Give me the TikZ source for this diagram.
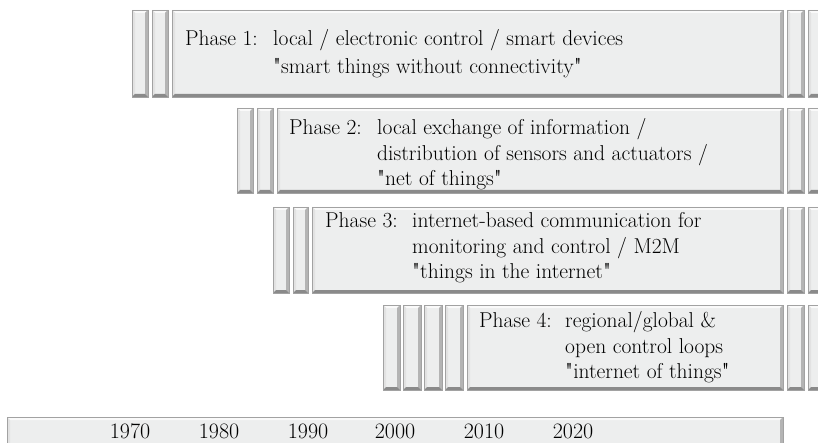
\documentclass[tikz,border=0pt]{standalone}
\usetikzlibrary{fit}
\definecolor{face}{HTML}{EDEEEE}
\definecolor{outl}{HTML}{A2A2A2}
\definecolor{bvtop}{HTML}{FAFAFA}
\definecolor{bvleft}{HTML}{E2E2E2}
\definecolor{bvright}{HTML}{B4B4B4}
\definecolor{bvbot}{HTML}{8A8A8A}
\font\qf="[lmroman10-regular]" at 21.5pt
\newcommand{\dq}{{\qf"}}
\newlength{\bw}\setlength{\bw}{3pt}
\newcommand{\bevbox}[5]{%
  \node[bevnode, fit={(#2,#3) (#4,#5)}] (#1) {};
  \fill[bvtop] (#1.north west) -- (#1.north east) -- ([xshift=-\bw,yshift=-\bw]#1.north east) -- ([xshift=\bw,yshift=-\bw]#1.north west) -- cycle;
  \fill[bvleft] (#1.north west) -- ([xshift=\bw,yshift=-\bw]#1.north west) -- ([xshift=\bw,yshift=\bw]#1.south west) -- (#1.south west) -- cycle;
  \fill[bvright] (#1.north east) -- ([xshift=-\bw,yshift=-\bw]#1.north east) -- ([xshift=-\bw,yshift=\bw]#1.south east) -- (#1.south east) -- cycle;
  \fill[bvbot] (#1.south west) -- ([xshift=\bw,yshift=\bw]#1.south west) -- ([xshift=-\bw,yshift=\bw]#1.south east) -- (#1.south east) -- cycle;
  \draw[outl, line width=0.8pt] (#1.south west) rectangle (#1.north east);
}
\tikzset{
  bevnode/.style={rectangle, fill=face, inner sep=0pt, outer sep=0pt},
  phasetext/.style={anchor=west, inner sep=0pt, font=\fontsize{21.5}{25.5}\selectfont, align=left},
  yeartext/.style={inner sep=0pt, font=\fontsize{22}{24}\selectfont}
}
\begin{document}
\begin{tikzpicture}[x=1pt,y=-1pt]
\useasboundingbox (0,0) rectangle (818,443);
\clip (0,0) rectangle (818,443);
% Row 1
\bevbox{r1a}{132}{10}{148}{97}
\bevbox{r1b}{152}{10}{168}{97}
\bevbox{r1m}{172}{10}{783}{97}
\bevbox{r1c}{787}{10}{804}{97}
\bevbox{r1d}{808}{10}{826}{97}
\node[phasetext] (t1) at (185,54) {\begin{tabular}{@{}p{88pt}@{}l@{}}Phase 1: & local / electronic control / smart devices\\[2.5pt] & \dq smart things without connectivity\dq\end{tabular}};
% Row 2
\bevbox{r2a}{237}{108}{253}{193}
\bevbox{r2b}{257}{108}{273}{193}
\bevbox{r2m}{277}{108}{783}{193}
\bevbox{r2c}{787}{108}{804}{193}
\bevbox{r2d}{808}{108}{826}{193}
\node[phasetext] (t2) at (289,155) {\begin{tabular}{@{}p{88pt}@{}l@{}}Phase 2: & local exchange of information /\\ & distribution of sensors and actuators /\\ & \dq net of things\dq\end{tabular}};
% Row 3
\bevbox{r3a}{273}{207}{289}{293}
\bevbox{r3b}{293}{207}{308}{293}
\bevbox{r3m}{312}{207}{783}{293}
\bevbox{r3c}{787}{207}{804}{293}
\bevbox{r3d}{808}{207}{826}{293}
\node[phasetext] (t3) at (325,248) {\begin{tabular}{@{}p{87pt}@{}l@{}}Phase 3: & internet-based communication for\\ & monitoring and control / M2M\\ & \dq things in the internet\dq\end{tabular}};
% Row 4
\bevbox{r4a}{383}{305}{400}{390}
\bevbox{r4b}{403}{305}{421}{390}
\bevbox{r4c}{424}{305}{442}{390}
\bevbox{r4d}{445}{305}{463}{390}
\bevbox{r4m}{467}{305}{783}{390}
\bevbox{r4e}{787}{305}{804}{390}
\bevbox{r4f}{808}{305}{826}{390}
\node[phasetext] (t4) at (479,348) {\begin{tabular}{@{}p{86pt}@{}l@{}}Phase 4: & regional/global \&\\ & open control loops\\ & \dq internet of things\dq\end{tabular}};
% Timeline
\bevbox{tl}{7}{417}{783}{462}
\node[yeartext] (y1970) at (130,431) {1970};
\node[yeartext] (y1980) at (219,431) {1980};
\node[yeartext] (y1990) at (308,431) {1990};
\node[yeartext] (y2000) at (395,431) {2000};
\node[yeartext] (y2010) at (484,431) {2010};
\node[yeartext] (y2020) at (573,431) {2020};
\end{tikzpicture}
\end{document}
